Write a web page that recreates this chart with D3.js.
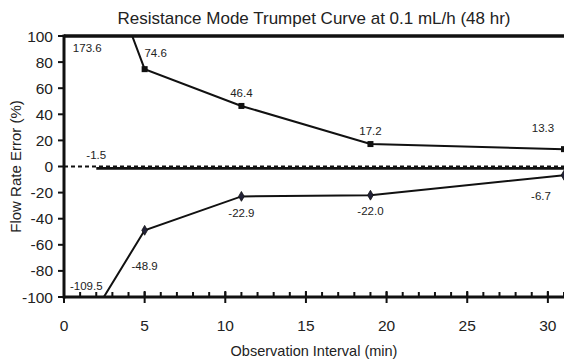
<!DOCTYPE html>
<html><head><meta charset="utf-8">
<script src="https://cdn.jsdelivr.net/npm/d3@7"></script>
<style>html,body{margin:0;padding:0;background:#fff;}svg{display:block;font-family:Arial,"Liberation Sans",sans-serif;}</style>
</head><body>
<svg id="chart" width="564" height="361"></svg>
<script>
const intervals = [2, 5, 11, 19, 31];
const maxError = [173.6, 74.6, 46.4, 17.2, 13.3];
const minError = [-109.5, -48.9, -22.9, -22.0, -6.7];
const overallError = -1.5;
const xTicks = [0, 5, 10, 15, 20, 25, 30];
const yTicks = [-100, -80, -60, -40, -20, 0, 20, 40, 60, 80, 100];
const title = "Resistance Mode Trumpet Curve at 0.1 mL/h (48 hr)";
const xTitle = "Observation Interval (min)";
const yTitle = "Flow Rate Error (%)";

// label offsets (pixels, relative to point)
const maxLabelOff = [[-9, null], [11, -16], [0, -13], [0, -13], [-21, -21]];
const minLabelOff = [[-10, null], [0, 36], [0, 16.5], [0, 16], [-23, 21]];

const svg = d3.select("#chart");
const L = 64, R = 564, T = 36, B = 297;
const x = d3.scaleLinear().domain([0, 31]).range([L, R]);
const y = d3.scaleLinear().domain([-100, 100]).range([B, T]);

svg.append("defs").append("clipPath").attr("id", "clip")
  .append("rect").attr("x", L).attr("y", T).attr("width", R - L + 2).attr("height", B - T);

// title
svg.append("text").attr("x", (L + R) / 2).attr("y", 24).attr("text-anchor", "middle")
  .attr("font-size", 17).attr("fill", "#222").text(title);

// zero dashed line
svg.append("line").attr("x1", x(0)).attr("x2", x(31)).attr("y1", y(0)).attr("y2", y(0))
  .attr("stroke", "#111").attr("stroke-width", 2).attr("stroke-dasharray", "4,3");
// overall error line
svg.append("line").attr("x1", x(intervals[0])).attr("x2", x(31)).attr("y1", y(overallError)).attr("y2", y(overallError))
  .attr("stroke", "#111").attr("stroke-width", 2.8);

const g = svg.append("g").attr("clip-path", "url(#clip)");
const line = d3.line().x((d, i) => x(intervals[i])).y(d => y(d));
g.append("path").datum(maxError).attr("d", line).attr("fill", "none").attr("stroke", "#111").attr("stroke-width", 2);
g.append("path").datum(minError).attr("d", line).attr("fill", "none").attr("stroke", "#111").attr("stroke-width", 2);

// markers
g.selectAll(".sq").data(maxError).enter().append("rect")
  .attr("x", (d, i) => x(intervals[i]) - 3).attr("y", d => y(d) - 3)
  .attr("width", 6).attr("height", 6).attr("fill", "#111");
g.selectAll(".dm").data(minError).enter().append("path")
  .attr("d", d3.symbol().type(d3.symbolDiamond).size(28))
  .attr("transform", (d, i) => `translate(${x(intervals[i])},${y(d)})`)
  .attr("fill", "#222238").attr("stroke", "#111").attr("stroke-width", 0.8);

// axes
const axG = svg.append("g");
axG.selectAll(".yt").data(yTicks).enter().append("line")
  .attr("x1", L - 6).attr("x2", L).attr("y1", d => y(d)).attr("y2", d => y(d))
  .attr("stroke", "#111").attr("stroke-width", 2);
axG.selectAll(".yl").data(yTicks).enter().append("text")
  .attr("x", L - 11).attr("y", d => y(d)).attr("dy", "0.36em").attr("text-anchor", "end")
  .attr("font-size", 15.5).attr("fill", "#222").text(d => String(d));
axG.selectAll(".xm").data(d3.range(0, 32)).enter().append("line")
  .attr("x1", d => x(d)).attr("x2", d => x(d)).attr("y1", B - 5).attr("y2", B)
  .attr("stroke", "#111").attr("stroke-width", 2);
axG.selectAll(".xt").data(xTicks).enter().append("line")
  .attr("x1", d => x(d)).attr("x2", d => x(d)).attr("y1", B - 6).attr("y2", B + 6)
  .attr("stroke", "#111").attr("stroke-width", 2);
axG.selectAll(".xl").data(xTicks).enter().append("text")
  .attr("x", d => x(d)).attr("y", 331).attr("text-anchor", "middle")
  .attr("font-size", 15.5).attr("fill", "#222").text(d => String(d));
axG.append("line").attr("x1", L).attr("x2", L).attr("y1", T - 1.5).attr("y2", B + 1.5).attr("stroke", "#111").attr("stroke-width", 3);
axG.append("line").attr("x1", L).attr("x2", R).attr("y1", T).attr("y2", T).attr("stroke", "#111").attr("stroke-width", 3.5);
axG.append("line").attr("x1", L).attr("x2", R).attr("y1", B).attr("y2", B).attr("stroke", "#111").attr("stroke-width", 3);

// axis titles
svg.append("text").attr("x", (L + R) / 2).attr("y", 356).attr("text-anchor", "middle")
  .attr("font-size", 14.5).attr("fill", "#222").text(xTitle);
svg.append("text").attr("transform", `translate(21,${(T + B) / 2}) rotate(-90)`).attr("text-anchor", "middle")
  .attr("font-size", 15).attr("fill", "#222").text(yTitle);

// data labels (plain hyphen-minus as in the original)
const fmt = v => v.toFixed(1);
function labelY(v, off, edge) { return off[1] === null ? edge : y(v) + off[1]; }
svg.selectAll(".ml").data(maxError).enter().append("text")
  .attr("x", (d, i) => x(intervals[i]) + maxLabelOff[i][0])
  .attr("y", (d, i) => labelY(d, maxLabelOff[i], y(100) + 12))
  .attr("dy", "0.36em").attr("text-anchor", "middle").attr("font-size", 11.5).attr("fill", "#222")
  .text(d => fmt(d));
svg.selectAll(".nl").data(minError).enter().append("text")
  .attr("x", (d, i) => x(intervals[i]) + minLabelOff[i][0])
  .attr("y", (d, i) => labelY(d, minLabelOff[i], y(-100) - 11))
  .attr("dy", "0.36em").attr("text-anchor", "middle").attr("font-size", 11.5).attr("fill", "#222")
  .text(d => fmt(d));
svg.append("text").attr("x", x(intervals[0])).attr("y", y(overallError) - 13.5)
  .attr("dy", "0.36em").attr("text-anchor", "middle").attr("font-size", 11.5).attr("fill", "#222")
  .text(fmt(overallError));
</script>
</body></html>
